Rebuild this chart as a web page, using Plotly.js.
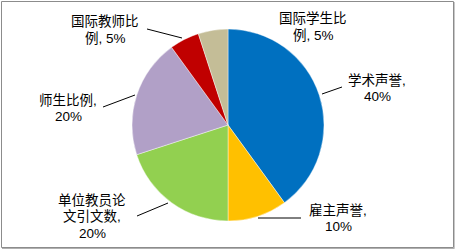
<!DOCTYPE html>
<html>
<head>
<meta charset="utf-8">
<script src="https://cdn.plot.ly/plotly-3.0.1.min.js"></script>
<style>
html,body{margin:0;padding:0;background:#fff;}
#chart{width:456px;height:250px;}
</style>
</head>
<body>
<div id="chart"></div>
<script>
// Data
const categories = ["学术声誉", "雇主声誉", "单位教员论文引文数", "师生比例", "国际教师比例", "国际学生比例"];
const values = [40, 10, 20, 20, 5, 5];
const labelLines = [
  ["学术声誉,", "40%"],
  ["雇主声誉,", "10%"],
  ["单位教员论", "文引文数,", "20%"],
  ["师生比例,", "20%"],
  ["国际教师比", "例, 5%"],
  ["国际学生比", "例, 5%"]
];
const colors = ["#0070C0", "#FFC000", "#92D050", "#B1A0C7", "#C00000", "#C4BD97"];

// Layout helpers (pixel -> paper)
const W = 456, H = 250;
const px = x => x / W;
const py = y => 1 - y / H;

// first-line centres of each label and leader lines (pixels)
const labelPos = [[377, 80], [338, 210], [92, 200], [68, 100], [105, 22], [313, 19]];
const lineGap = 16.8;
const leaders = [
  [[322, 94], [342, 87]],
  [[258, 218], [301, 218]],
  [[137, 216], [168, 203]],
  [[103, 107], [135, 95]],
  [[147, 29], [182, 38]],
  null
];

const cx = 228, cy = 125, r = 96;

const trace = {
  type: "pie",
  labels: categories,
  values: values,
  sort: false,
  direction: "clockwise",
  rotation: 0,
  textinfo: "none",
  hoverinfo: "label+percent",
  marker: { colors: colors, line: { color: "rgba(255,255,255,0.6)", width: 0.7 } },
  domain: { x: [px(cx - r), px(cx + r)], y: [py(cy + r), py(cy - r)] },
  showlegend: false
};

const annotations = [];
categories.forEach((c, i) => {
  labelLines[i].forEach((t, k) => {
    annotations.push({
      xref: "paper", yref: "paper",
      x: px(labelPos[i][0]), y: py(labelPos[i][1] + k * lineGap),
      xanchor: "center", yanchor: "middle",
      text: t,
      showarrow: false,
      align: "center",
      font: { family: "Liberation Sans, Noto Sans CJK SC, sans-serif", size: 13.5, color: "#000" }
    });
  });
});

const shapes = [];
leaders.forEach(l => {
  if (!l) return;
  shapes.push({
    type: "line", xref: "paper", yref: "paper",
    x0: px(l[0][0]), y0: py(l[0][1]), x1: px(l[1][0]), y1: py(l[1][1]),
    line: { color: "#000", width: 1 }
  });
});
// frame
shapes.push({
  type: "rect", xref: "paper", yref: "paper",
  x0: px(1.5), y0: py(247.5), x1: px(453.5), y1: py(1.5),
  line: { color: "#8c8c8c", width: 1 }
});
shapes.push({
  type: "line", xref: "paper", yref: "paper",
  x0: px(2), y0: py(248.5), x1: px(454.5), y1: py(248.5),
  line: { color: "#b0b0b0", width: 1 }
});
shapes.push({
  type: "line", xref: "paper", yref: "paper",
  x0: px(454.5), y0: py(2), x1: px(454.5), y1: py(248.5),
  line: { color: "#c8c8c8", width: 1 }
});

const layout = {
  width: W, height: H,
  margin: { l: 0, r: 0, t: 0, b: 0 },
  paper_bgcolor: "#fff",
  plot_bgcolor: "#fff",
  annotations: annotations,
  shapes: shapes
};

Plotly.newPlot("chart", [trace], layout, { displayModeBar: false, staticPlot: true });
</script>
</body>
</html>
